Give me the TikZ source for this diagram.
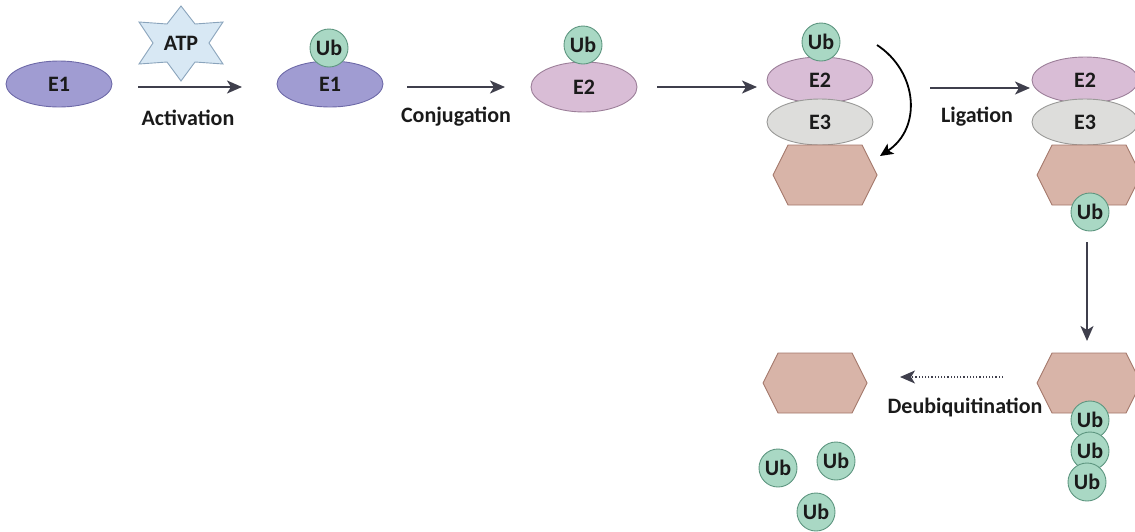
\documentclass[tikz,border=0pt]{standalone}
\usepackage{fontspec}
\setmainfont{Carlito}
\usetikzlibrary{shapes.geometric,arrows.meta}
\definecolor{eonefill}{HTML}{A09CD2}
\definecolor{eoneline}{HTML}{6E6AA8}
\definecolor{etwofill}{HTML}{D9BDD6}
\definecolor{etwoline}{HTML}{9C7F99}
\definecolor{ethreefill}{HTML}{DDDDDB}
\definecolor{ethreeline}{HTML}{9A9A98}
\definecolor{hexfill}{HTML}{D8B4A8}
\definecolor{hexline}{HTML}{A4786B}
\definecolor{ubfill}{HTML}{A9D8C4}
\definecolor{ubline}{HTML}{5E9680}
\definecolor{starfill}{HTML}{D8E8F4}
\definecolor{starline}{HTML}{8AA4BC}
\definecolor{arrowgray}{HTML}{3F3F4C}
\definecolor{txt}{HTML}{1A1A1A}
\tikzset{
  lbl/.style={font=\fontsize{22}{26}\selectfont\bfseries, text=txt, inner sep=0pt},
  enz/.style={ellipse, draw, line width=0.9pt, inner sep=0pt, lbl, minimum width=106pt, minimum height=46pt},
  eone/.style={enz, fill=eonefill, draw=eoneline},
  etwo/.style={enz, fill=etwofill, draw=etwoline},
  ethree/.style={enz, fill=ethreefill, draw=ethreeline},
  ub/.style={circle, lbl, fill=ubfill, draw=ubline, line width=0.9pt, minimum size=38pt},
  hexa/.style={fill=hexfill, draw=hexline, line width=0.9pt},
  arr/.style={draw=arrowgray, line width=1.8pt, -{Stealth[length=15pt,width=13pt,inset=4pt]}},
  darr/.style={draw=arrowgray, line width=1.2pt, dotted, -{Stealth[length=15pt,width=13pt,inset=4pt]}},
  carr/.style={draw=black, line width=1.8pt, -{Stealth[length=13pt,width=12pt,inset=3pt]}},
}
\newcommand\hexshape[3]{%
  \coordinate (#1) at (#2,#3);
  \filldraw[hexa,shift={(#2,#3)}] (-52,0) -- (-37,-30) -- (37,-30) -- (52,0) -- (37,30) -- (-37,30) -- cycle;
}
\begin{document}
\begin{tikzpicture}[x=1pt,y=-1pt]
\useasboundingbox (0,0) rectangle (1135,531);
% E1 activation
\node[eone] (e1a) at (59,84) {E1};
\filldraw[fill=starfill, draw=starline, line width=0.9pt, shift={(181,43)}]
  (0,-37) -- (14,-19) -- (42,-21) -- (28,0) -- (42,21) -- (14,19) -- (0,38)
  -- (-14,19) -- (-42,21) -- (-28,0) -- (-42,-21) -- (-14,-19) -- cycle;
\node[lbl] (atp) at (181,43) {ATP};
\coordinate (a1s) at (138,87);
\coordinate (a1e) at (242,87);
\draw[arr] (a1s) -- (a1e);
\node[lbl] (act) at (188,118) {Activation};
% E1 ~ Ub
\node[eone] (e1b) at (330,84) {E1};
\node[ub] (ub1) at (329,48) {Ub};
\coordinate (a2s) at (407,87);
\coordinate (a2e) at (505,87);
\draw[arr] (a2s) -- (a2e);
\node[lbl] (conj) at (456,117) {Conjugation};
% E2 ~ Ub
\node[etwo, minimum height=50pt] (e2a) at (584,87) {E2};
\node[ub] (ub2) at (583,45) {Ub};
\coordinate (a3s) at (657,87);
\coordinate (a3e) at (757,87);
\draw[arr] (a3s) -- (a3e);
% complex
\node[etwo] (e2b) at (820,80) {E2};
\node[ub] (ub3) at (821,42) {Ub};
\node[ethree] (e3b) at (820,122) {E3};
\hexshape{hexb}{825}{175}
\coordinate (cs) at (877,45);
\coordinate (ce) at (880,156);
\draw[carr] (cs) .. controls (918,72) and (922,128) .. (ce);
\coordinate (a4s) at (930,88);
\coordinate (a4e) at (1030,88);
\draw[arr] (a4s) -- (a4e);
\node[lbl] (lig) at (977,117) {Ligation};
% ligated
\node[etwo] (e2c) at (1085,80) {E2};
\node[ethree] (e3c) at (1085,122) {E3};
\hexshape{hexc}{1089}{175}
\node[ub] (ub4) at (1090,212) {Ub};
\coordinate (a5s) at (1087,242);
\coordinate (a5e) at (1087,341);
\draw[arr] (a5s) -- (a5e);
% polyubiquitinated
\hexshape{hexd}{1089}{383}
\node[ub] (ub5) at (1090,420) {Ub};
\node[ub] (ub6) at (1090,451) {Ub};
\node[ub] (ub7) at (1087,482) {Ub};
\coordinate (a6s) at (1003,377);
\coordinate (a6e) at (900,377);
\draw[darr] (a6s) -- (a6e);
\node[lbl] (deub) at (965,407) {Deubiquitination};
% free
\hexshape{hexe}{815}{383}
\node[ub] (ub8) at (778,468) {Ub};
\node[ub] (ub9) at (836,461) {Ub};
\node[ub] (ub10) at (816,512) {Ub};
\end{tikzpicture}
\end{document}
